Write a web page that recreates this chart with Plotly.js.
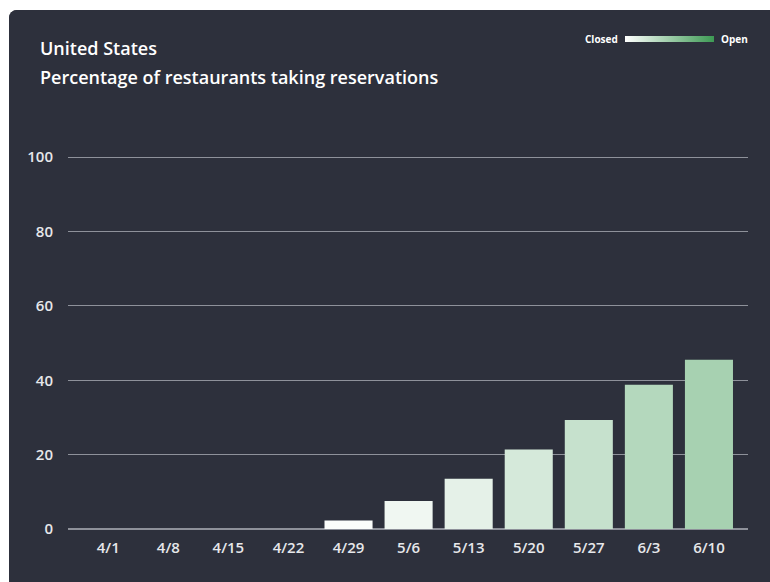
<!DOCTYPE html>
<html>
<head>
<meta charset="utf-8">
<script src="https://cdn.plot.ly/plotly-3.0.1.min.js"></script>
<style>
  html, body { margin: 0; padding: 0; background: #ffffff; width: 770px; height: 582px; overflow: hidden; }
  #panel { position: absolute; left: 9px; top: 10px; width: 761px; height: 572px; border-radius: 8px 0 0 0; overflow: hidden; background: #2d303c; }
  #chart { width: 761px; height: 572px; }
</style>
</head>
<body>
<div id="panel"><div id="chart"></div></div>
<script>
const weeks = ['4/1', '4/8', '4/15', '4/22', '4/29', '5/6', '5/13', '5/20', '5/27', '6/3', '6/10'];
const pctTakingReservations = [0, 0, 0, 0, 2.3, 7.5, 13.5, 21.4, 29.3, 38.8, 45.5];
const yTicks = [0, 20, 40, 60, 80, 100];
const titleLine1 = 'United States';
const titleLine2 = 'Percentage of restaurants taking reservations';
const legendLow = 'Closed';
const legendHigh = 'Open';

const W = 761, H = 572;
const mL = 59, mR = 22, mT = 146, mB = 53;
const pw = W - mL - mR, ph = H - mT - mB;
const px = x => (x - mL) / pw;
const py = y => 1 + (mT - y) / ph;

const fontFam = '"Open Sans", Lato, sans-serif';
const scale = [[0, '#ffffff'], [1, '#3d9a54']];

const trace = {
  type: 'bar',
  x: weeks,
  y: pctTakingReservations,
  marker: {
    color: pctTakingReservations,
    colorscale: scale,
    cmin: 0, cmax: 100,
    showscale: true,
    line: { width: 0 },
    colorbar: {
      orientation: 'h',
      x: px(660.5), xanchor: 'center',
      y: py(29), yanchor: 'middle',
      len: 89, lenmode: 'pixels',
      thickness: 6, thicknessmode: 'pixels',
      showticklabels: false, ticks: '',
      outlinewidth: 0, borderwidth: 0,
      xpad: 0, ypad: 0
    }
  },
  hoverinfo: 'x+y'
};

const layout = {
  width: W, height: H,
  margin: { l: mL, r: mR, t: mT, b: mB },
  paper_bgcolor: '#2d303c',
  plot_bgcolor: '#2d303c',
  bargap: 0.2,
  showlegend: false,
  font: { family: fontFam, color: '#e6e7ea', size: 15 },
  xaxis: {
    type: 'category',
    range: [-0.67, 10.65],
    showgrid: false, zeroline: false, showline: false,
    ticks: '', ticklabelstandoff: 8,
    tickfont: { family: fontFam, size: 15, color: '#e6e7ea', weight: 600 }
  },
  yaxis: {
    range: [0, 100.3],
    tickvals: yTicks,
    showgrid: true, gridcolor: '#8e919a', gridwidth: 1.2,
    zeroline: true, zerolinecolor: '#8e919a', zerolinewidth: 1.5,
    showline: false, ticks: '', ticklabelstandoff: 14,
    tickfont: { family: fontFam, size: 15, color: '#e6e7ea', weight: 600 }
  },
  annotations: [
    { text: titleLine1, xref: 'paper', yref: 'paper', x: px(29), y: py(38), xanchor: 'left', yanchor: 'middle', showarrow: false,
      font: { family: fontFam, size: 18, color: '#ffffff', weight: 600 } },
    { text: titleLine2, xref: 'paper', yref: 'paper', x: px(29), y: py(67), xanchor: 'left', yanchor: 'middle', showarrow: false,
      font: { family: fontFam, size: 18, color: '#ffffff', weight: 600 } },
    { text: legendLow, xref: 'paper', yref: 'paper', x: px(611), y: py(29), xanchor: 'right', yanchor: 'middle', showarrow: false,
      font: { family: fontFam, size: 10, color: '#ffffff', weight: 700 } },
    { text: legendHigh, xref: 'paper', yref: 'paper', x: px(710), y: py(29), xanchor: 'left', yanchor: 'middle', showarrow: false,
      font: { family: fontFam, size: 10, color: '#ffffff', weight: 700 } }
  ]
};

Plotly.newPlot('chart', [trace], layout, { displayModeBar: false, staticPlot: true });
</script>
</body>
</html>
